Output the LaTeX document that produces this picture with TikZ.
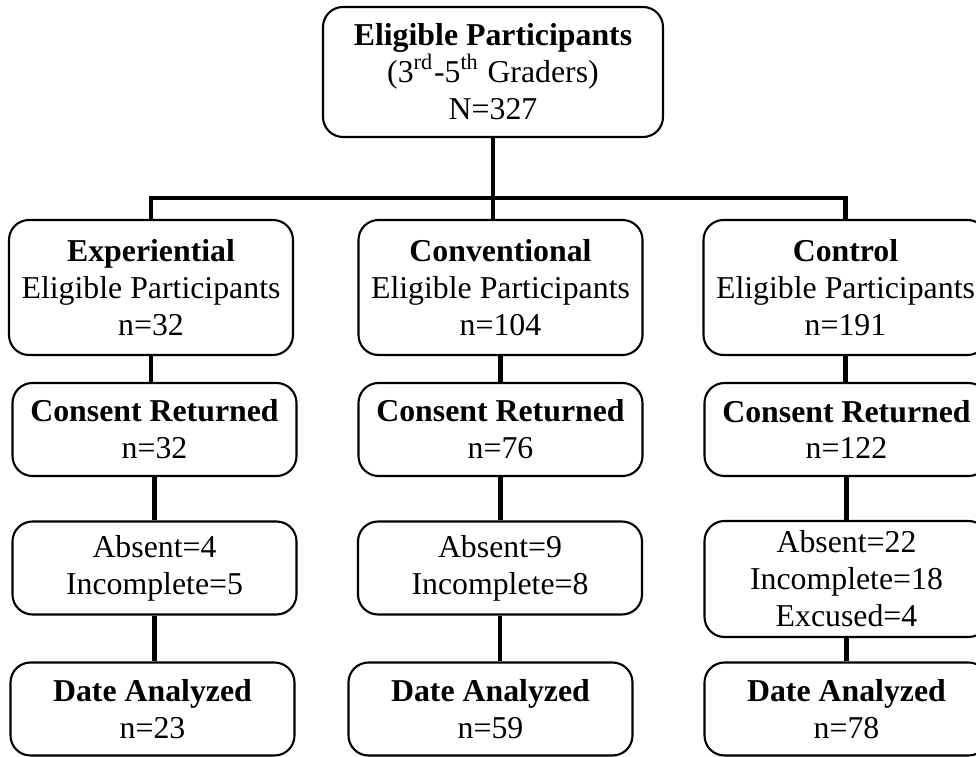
\documentclass[tikz,border=0pt]{standalone}
\usepackage{fontspec}
\setmainfont{Liberation Serif}
\usetikzlibrary{positioning}

\begin{document}
\begin{tikzpicture}[
            box/.style={draw,rounded corners=2mm,line width=0.6pt,align=center,
                inner sep=0pt,font=\fontsize{9.05}{10.5}\selectfont},
            link/.style={line width=1.4pt}
        ]
            \useasboundingbox (0,0) rectangle (9.76,-7.57);
            \clip (0,0) rectangle (9.76,-7.57);

            \node (top) [box,minimum width=3.4cm,minimum height=1.3cm] at (4.93,-0.72)
                {\textbf{Eligible Participants}\\(3\textsuperscript{rd}-5\textsuperscript{th} Graders)\\N=327};
            \coordinate (split) at (4.93,-1.98);

            \begin{scope}[
                every node/.style={box,minimum width=2.84cm,minimum height=0.93cm}
            ]
                \node (exp) [minimum height=1.35cm] at (1.51,-2.875)
                    {\textbf{Experiential}\\Eligible Participants\\n=32};
                \node (exp-con) at (1.545,-4.295) {\textbf{Consent Returned}\\n=32};
                \node (exp-abs) at (1.545,-5.68)  {Absent=4\\Incomplete=5};
                \node (exp-dat) at (1.525,-7.09)  {\textbf{Date Analyzed}\\n=23};

                \node (conv) [minimum height=1.35cm] at (5.005,-2.875)
                    {\textbf{Conventional}\\Eligible Participants\\n=104};
                \node (conv-con) at (5.005,-4.295) {\textbf{Consent Returned}\\n=76};
                \node (conv-abs) at (5.0,-5.68)    {Absent=9\\Incomplete=8};
                \node (conv-dat) at (4.905,-7.09)  {\textbf{Date Analyzed}\\n=59};

                \node (ctrl) [minimum height=1.35cm] at (8.455,-2.875)
                    {\textbf{Control}\\Eligible Participants\\n=191};
                \node (ctrl-con) at (8.465,-4.295) {\textbf{Consent Returned}\\n=122};
                \node (ctrl-abs) [minimum height=1.16cm] at (8.465,-5.79)
                    {Absent=22\\Incomplete=18\\Excused=4};
                \node (ctrl-dat) at (8.465,-7.09)  {\textbf{Date Analyzed}\\n=78};
            \end{scope}

            \draw [link] (top.south) -- (split);
            \draw [link] (exp.north) |- (split) -| (ctrl.north);
            \draw [link] (split) -- (split |- conv.north);
            \foreach \g in {exp,conv,ctrl}
                \draw [link] (\g.south) -- (\g.south |- \g-con.north)
                             (\g-con.south) -- (\g-con.south |- \g-abs.north)
                             (\g-abs.south) -- (\g-abs.south |- \g-dat.north);
        \end{tikzpicture}
\end{document}
